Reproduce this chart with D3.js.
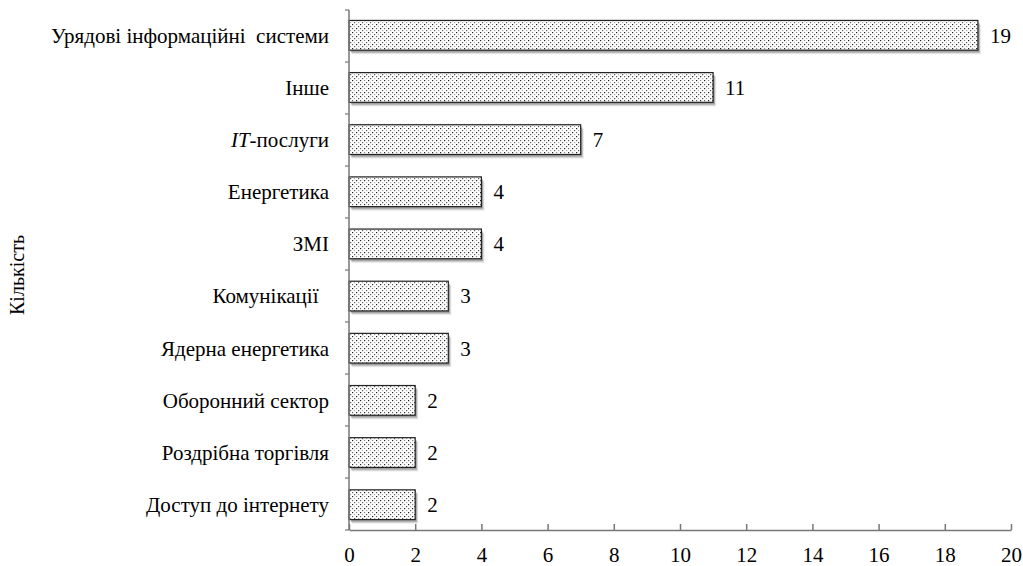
<!DOCTYPE html>
<html><head><meta charset="utf-8">
<script src="https://cdn.jsdelivr.net/npm/d3@7"></script>
<style>body{margin:0;background:#fff}svg{display:block}</style>
</head><body>
<svg id="c" width="1023" height="566"></svg>
<script>
const categories = ["Урядові інформаційні  системи","Інше","IT-послуги","Енергетика","ЗМІ","Комунікації  ","Ядерна енергетика","Оборонний сектор","Роздрібна торгівля","Доступ до інтернету"];
const values = [19,11,7,4,4,3,3,2,2,2];
const xTicks = [0,2,4,6,8,10,12,14,16,18,20];
const yTitle = "Кількість";

const FONT = "'Liberation Serif', 'Times New Roman', serif";
const FS = "21px";
const svg = d3.select("#c");
const x = d3.scaleLinear().domain([0,20]).range([349,1011]);
const y = d3.scaleBand().domain(categories).range([10,530]).paddingInner(0.43).paddingOuter(0.2);

const defs = svg.append("defs");
const pat = defs.append("pattern").attr("id","dots").attr("patternUnits","userSpaceOnUse").attr("width",8).attr("height",8);
pat.append("rect").attr("width",8).attr("height",8).attr("fill","#fff");
[[0,0,"#222"],[4,0,"#888"],[2,2,"#aaa"],[6,2,"#555"],[0,4,"#666"],[4,4,"#222"],[2,6,"#555"],[6,6,"#aaa"]].forEach(d=>{
  pat.append("rect").attr("x",d[0]).attr("y",d[1]).attr("width",1.2).attr("height",1.2).attr("fill",d[2]);
});

// shadows (soft, layered)
const sh = svg.append("g");
[[3,4,0.10],[2,3,0.14],[1.5,2,0.18]].forEach(s=>{
  sh.append("g").selectAll("rect").data(values).join("rect")
    .attr("x",x(0)+s[0]).attr("y",(d,i)=>y(categories[i])+s[1])
    .attr("width",d=>x(d)-x(0)).attr("height",y.bandwidth())
    .attr("fill","#000").attr("fill-opacity",s[2]);
});

// bars
svg.append("g").selectAll("rect").data(values).join("rect")
  .attr("x",x(0)).attr("y",(d,i)=>y(categories[i]))
  .attr("width",d=>x(d)-x(0)).attr("height",y.bandwidth())
  .attr("fill","url(#dots)").attr("stroke","#222").attr("stroke-width",1.2);

// value labels
svg.selectAll("text.val").data(values).join("text").attr("class","val")
  .attr("x",d=>x(d)+12).attr("y",(d,i)=>y(categories[i])+y.bandwidth()/2)
  .attr("dy","0.35em").style("font-family",FONT).style("font-size",FS).text(d=>d);

// x axis
const xa = svg.append("g").attr("transform","translate(0,530)")
  .call(d3.axisBottom(x).tickValues(xTicks).tickSize(-6).tickPadding(17).tickSizeOuter(0));
xa.attr("font-family",null).attr("font-size",null);
xa.select(".domain").attr("stroke","#777").attr("stroke-width",1.5);
xa.selectAll(".tick line").attr("stroke","#777").attr("stroke-width",1.5);
xa.selectAll(".tick text").style("font-family",FONT).style("font-size",FS).attr("fill","#000");

// y axis line
svg.append("line").attr("x1",x(0)).attr("x2",x(0)).attr("y1",10).attr("y2",530).attr("stroke","#777").attr("stroke-width",1.5);
const bounds = d3.range(0,11).map(i=>10 + i*520/10);
svg.append("g").selectAll("line").data(bounds).join("line")
  .attr("x1",x(0)-4).attr("x2",x(0)).attr("y1",d=>d).attr("y2",d=>d).attr("stroke","#777").attr("stroke-width",1.2);

// category labels
const cl = svg.selectAll("text.cat").data(categories).join("text").attr("class","cat")
  .attr("x",329).attr("y",d=>y(d)+y.bandwidth()/2).attr("dy","0.35em")
  .attr("text-anchor","end").style("font-family",FONT).style("font-size",FS).style("white-space","pre");
cl.each(function(d){
  const t = d3.select(this);
  if (d.startsWith("IT-")) {
    t.append("tspan").style("font-style","italic").text("IT");
    t.append("tspan").text(d.slice(2));
  } else t.text(d);
});

// y title
svg.append("text").attr("transform","translate(24,275) rotate(-90)").attr("text-anchor","middle")
  .style("font-family",FONT).style("font-size","20px").text(yTitle);
</script>
</body></html>
